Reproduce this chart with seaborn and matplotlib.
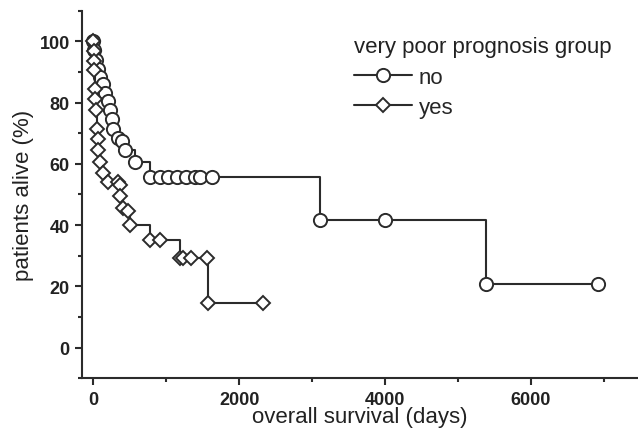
import matplotlib
matplotlib.use("Agg")
import matplotlib.pyplot as plt
import seaborn as sns
import pandas as pd
from matplotlib.ticker import MultipleLocator

# ---- data ----
no_days = [0, 15, 40, 68, 92, 137, 160, 205, 229, 252, 274, 343, 389, 434,
           571, 777, 914, 1027, 1142, 1270, 1393, 1461, 1622, 3104, 3996, 5389, 6928]
no_surv = [100, 97, 94, 91, 88.5, 86, 83, 80.5, 77.5, 74.5, 71.5, 68.5, 67.5, 64.5,
           60.5, 55.6, 55.6, 55.6, 55.6, 55.6, 55.6, 55.6, 55.6, 41.7, 41.7, 20.8, 20.8]

yes_days = [0, 5, 10, 15, 20, 25, 37, 46, 60, 68, 92, 137, 205, 342, 360, 366,
            411, 480, 503, 777, 914, 1190, 1230, 1334, 1553, 1575, 2329]
yes_surv = [100, 96.7, 93.5, 90.5, 84.5, 81, 77.5, 71.5, 68, 64.5, 60.5, 57, 54, 54, 53, 49.5,
            45.5, 44.5, 40, 35.2, 35.2, 29.4, 29.4, 29.4, 29.4, 14.7, 14.7]

group_labels = ["no", "yes"]
legend_title = "very poor prognosis group"
x_label = "overall survival (days)"
y_label = "patients alive (%)"
x_ticks = [0, 2000, 4000, 6000]
y_ticks = [0, 20, 40, 60, 80, 100]

sns.set_style("ticks")
plt.rcParams["font.family"] = ["Liberation Sans", "DejaVu Sans"]

dark = "#2b2b2b"
fig = plt.figure(figsize=(6.38, 4.31), dpi=100)
ax = fig.add_axes([0.128, 0.12, 0.872, 0.853])

df_no = pd.DataFrame({"days": no_days, "surv": no_surv})
df_yes = pd.DataFrame({"days": yes_days, "surv": yes_surv})

sns.lineplot(data=df_no, x="days", y="surv", ax=ax, estimator=None, sort=False,
             drawstyle="steps-post", color=dark, lw=1.5, marker="o", ms=9.5,
             markerfacecolor="white", markeredgecolor=dark, markeredgewidth=1.4,
             label=group_labels[0])
sns.lineplot(data=df_yes, x="days", y="surv", ax=ax, estimator=None, sort=False,
             drawstyle="steps-post", color=dark, lw=1.5, marker="D", ms=7.5,
             markerfacecolor="white", markeredgecolor=dark, markeredgewidth=1.4,
             label=group_labels[1], zorder=3)

ax.set_xlim(-160, 7470)
ax.set_ylim(-10, 110)
ax.set_xticks(x_ticks)
ax.set_yticks(y_ticks)
ax.xaxis.set_minor_locator(MultipleLocator(1000))
ax.yaxis.set_minor_locator(MultipleLocator(10))
ax.tick_params(which="major", length=5, width=1.5, color=dark, labelsize=13)
ax.tick_params(axis="x", which="major", pad=4)
ax.tick_params(which="minor", length=3, width=1.5, color=dark)
for lab in ax.get_xticklabels() + ax.get_yticklabels():
    lab.set_fontweight("bold")
    lab.set_color("#222222")

for side in ["top", "right"]:
    ax.spines[side].set_visible(False)
for side in ["left", "bottom"]:
    ax.spines[side].set_linewidth(1.5)
    ax.spines[side].set_color(dark)

ax.set_xlabel(x_label, fontsize=16, color="#222222", labelpad=-1)
ax.set_ylabel(y_label, fontsize=16, color="#222222", labelpad=4)

leg = ax.legend(title=legend_title, loc="upper left", bbox_to_anchor=(0.49, 0.93),
                frameon=False, fontsize=16, title_fontsize=16,
                handlelength=2.6, handletextpad=0.3, labelspacing=0.42,
                borderaxespad=0, borderpad=0)
leg._legend_box.align = "left"
leg.get_title().set_color("#222222")

fig.savefig("out.png", dpi=100)
